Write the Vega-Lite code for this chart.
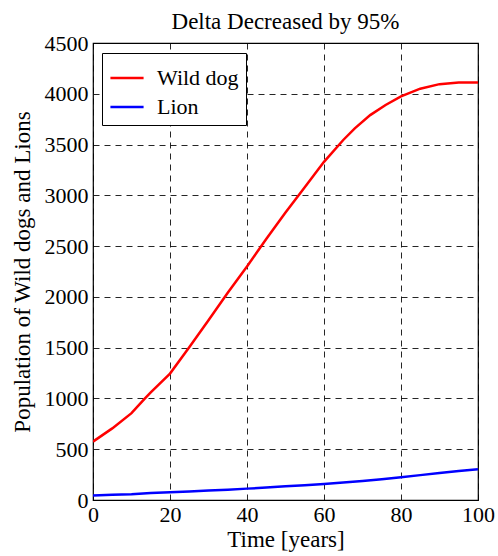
{
  "$schema": "https://vega.github.io/schema/vega-lite/v6.json",
  "autosize": "none",
  "width": 385,
  "height": 457,
  "padding": {"left": 93, "top": 43, "right": 20, "bottom": 56},
  "background": "white",
  "title": {"text": "Delta Decreased by 95%", "font": "Liberation Serif", "fontSize": 23, "fontWeight": "normal", "color": "black", "offset": -2, "anchor": "middle"},
  "config": {
    "view": {"stroke": "black", "strokeWidth": 1.2}
  },
  "data": {"values": [
    {"t": 0, "v": 575, "s": "Wild dog"},
    {"t": 5, "v": 705, "s": "Wild dog"},
    {"t": 10, "v": 855, "s": "Wild dog"},
    {"t": 13.5, "v": 1000, "s": "Wild dog"},
    {"t": 15, "v": 1060, "s": "Wild dog"},
    {"t": 20, "v": 1245, "s": "Wild dog"},
    {"t": 25, "v": 1505, "s": "Wild dog"},
    {"t": 30, "v": 1770, "s": "Wild dog"},
    {"t": 35, "v": 2040, "s": "Wild dog"},
    {"t": 40, "v": 2300, "s": "Wild dog"},
    {"t": 45, "v": 2570, "s": "Wild dog"},
    {"t": 50, "v": 2830, "s": "Wild dog"},
    {"t": 55, "v": 3080, "s": "Wild dog"},
    {"t": 60, "v": 3330, "s": "Wild dog"},
    {"t": 65, "v": 3545, "s": "Wild dog"},
    {"t": 68, "v": 3660, "s": "Wild dog"},
    {"t": 72, "v": 3790, "s": "Wild dog"},
    {"t": 76, "v": 3890, "s": "Wild dog"},
    {"t": 80, "v": 3975, "s": "Wild dog"},
    {"t": 85, "v": 4050, "s": "Wild dog"},
    {"t": 90, "v": 4095, "s": "Wild dog"},
    {"t": 95, "v": 4112, "s": "Wild dog"},
    {"t": 100, "v": 4112, "s": "Wild dog"},
    {"t": 0, "v": 45, "s": "Lion"},
    {"t": 5, "v": 52, "s": "Lion"},
    {"t": 10, "v": 56, "s": "Lion"},
    {"t": 15, "v": 68, "s": "Lion"},
    {"t": 20, "v": 76, "s": "Lion"},
    {"t": 25, "v": 83, "s": "Lion"},
    {"t": 30, "v": 93, "s": "Lion"},
    {"t": 35, "v": 102, "s": "Lion"},
    {"t": 40, "v": 112, "s": "Lion"},
    {"t": 45, "v": 122, "s": "Lion"},
    {"t": 50, "v": 135, "s": "Lion"},
    {"t": 55, "v": 146, "s": "Lion"},
    {"t": 60, "v": 158, "s": "Lion"},
    {"t": 65, "v": 172, "s": "Lion"},
    {"t": 70, "v": 188, "s": "Lion"},
    {"t": 75, "v": 205, "s": "Lion"},
    {"t": 80, "v": 225, "s": "Lion"},
    {"t": 85, "v": 245, "s": "Lion"},
    {"t": 90, "v": 265, "s": "Lion"},
    {"t": 95, "v": 285, "s": "Lion"},
    {"t": 100, "v": 302, "s": "Lion"}
  ]},
  "mark": {"type": "line", "strokeWidth": 2.5, "clip": true},
  "encoding": {
    "x": {"field": "t", "type": "quantitative", "title": "Time [years]", "scale": {"domain": [0, 100], "nice": false},
      "axis": {"values": [0, 20, 40, 60, 80, 100], "format": "d", "labelFont": "Liberation Serif", "titleFont": "Liberation Serif", "labelFontSize": 22, "titleFontSize": 23, "titleFontWeight": "normal", "labelColor": "black", "titleColor": "black", "grid": true, "gridColor": "black", "gridDash": [6, 5], "gridOpacity": 0.85, "domain": false, "ticks": false, "labelPadding": 4, "titlePadding": 3, "labelFlush": false}},
    "y": {"field": "v", "type": "quantitative", "title": "Population of Wild dogs and Lions", "scale": {"domain": [0, 4500], "nice": false},
      "axis": {"values": [0, 500, 1000, 1500, 2000, 2500, 3000, 3500, 4000, 4500], "format": "d", "labelFont": "Liberation Serif", "titleFont": "Liberation Serif", "labelFontSize": 22, "titleFontSize": 23, "titleFontWeight": "normal", "labelColor": "black", "titleColor": "black", "grid": true, "gridColor": "black", "gridDash": [6, 5], "gridOpacity": 0.85, "domain": false, "ticks": false, "labelPadding": 5, "titlePadding": 10, "labelFlush": false}},
    "color": {"field": "s", "type": "nominal", "title": null, "scale": {"domain": ["Wild dog", "Lion"], "range": ["#ff0000", "#0000ff"]},
      "legend": {"orient": "none", "legendX": 9, "legendY": 10, "fillColor": "white", "strokeColor": "black", "padding": 7, "symbolType": "stroke", "symbolSize": 1100, "symbolStrokeWidth": 2.5, "labelFont": "Liberation Serif", "labelFontSize": 22, "labelColor": "black", "labelOffset": 12, "rowPadding": 0, "labelLimit": 200}}
  }
}
